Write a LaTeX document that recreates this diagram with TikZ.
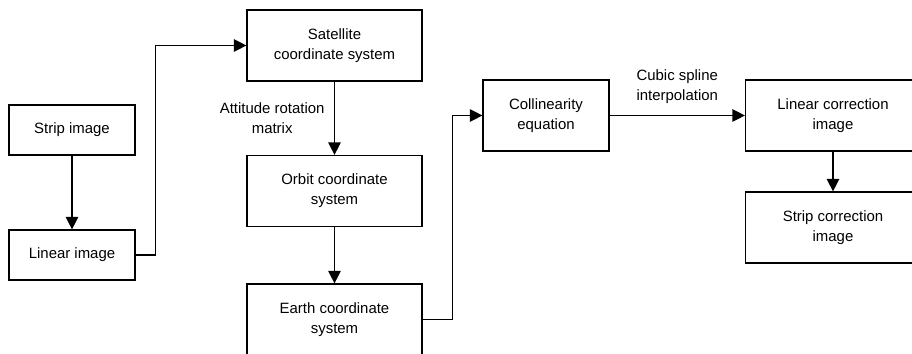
\documentclass[tikz,border=0pt]{standalone}
\usepackage{fontspec}
\setmainfont{Liberation Sans}
\usetikzlibrary{arrows.meta}

\begin{document}
\begin{tikzpicture}[x=0.02cm, y=-0.02cm, font=\fontsize{8.5}{11.4}\selectfont,
    smallbox/.style={draw, line width=0.7pt, minimum width=2.52cm, minimum height=1cm,
      inner sep=0pt, align=center},
    bigbox/.style={draw, line width=0.7pt, minimum width=3.5cm, minimum height=1.42cm,
      inner sep=0pt, align=center},
    flow/.style={line width=0.75pt, -{Triangle[length=0.25cm, width=0.25cm]}}]
  \useasboundingbox (0,0) rectangle (912,354);
  \clip (0,0) rectangle (912,354);
  % boxes
  \node[smallbox] (strip) at (72,130) {Strip image};
  \node[smallbox] (linear) at (72,255) {Linear image};
  \node[bigbox] (sat) at (334.5,45.5) {Satellite\\coordinate system};
  \node[bigbox] (orbit) at (334.5,191) {Orbit coordinate\\system};
  \node[bigbox] (earth) at (334.5,319.5) {Earth coordinate\\system};
  \node[smallbox, minimum height=1.42cm] (coll) at (546,115.5) {Collinearity\\equation};
  \node[bigbox] (lincorr) at (833,115.5) {Linear correction\\image};
  \node[bigbox] (stripcorr) at (833,227.5) {Strip correction\\image};
  % connectors
  \draw[flow] (strip) -- (linear);
  \draw[flow] (linear.east) -- ++(20,0) |- (sat.west);
  \draw[flow] (sat) -- node[left, align=center, xshift=-2pt]{Attitude rotation\\matrix} (orbit);
  \draw[flow] (orbit) -- (earth);
  \draw[flow] (earth.east) -- ++(30,0) |- (coll.west);
  \draw[flow] (coll) -- node[above, align=center, yshift=3pt]{Cubic spline\\interpolation} (lincorr);
  \draw[flow] (lincorr) -- (stripcorr);
\end{tikzpicture}
\end{document}
